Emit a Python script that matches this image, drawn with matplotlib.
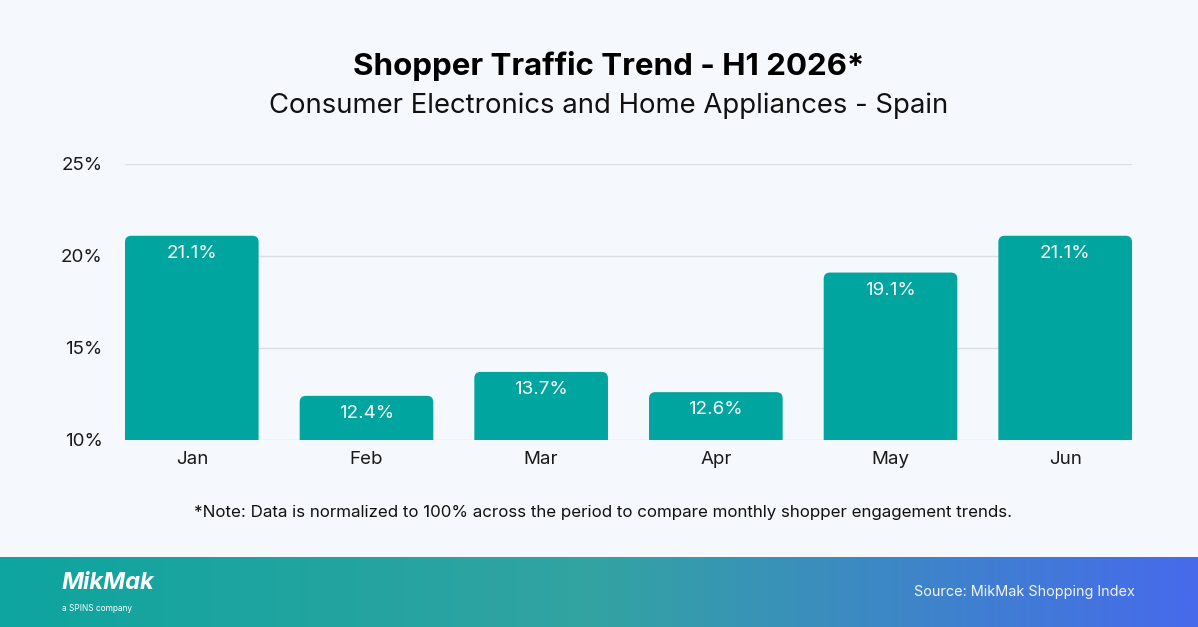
import numpy as np
import matplotlib.pyplot as plt
from matplotlib.patches import FancyBboxPatch

months = ['Jan', 'Feb', 'Mar', 'Apr', 'May', 'Jun']
traffic = [21.1, 12.4, 13.7, 12.6, 19.1, 21.1]
y_ticks = [10, 15, 20, 25]

BG = '#F5F8FC'
BAR = '#00A59F'
plt.rcParams['font.family'] = ['Inter', 'DejaVu Sans']

fig = plt.figure(figsize=(11.98, 6.27), dpi=100, facecolor=BG)
ax = fig.add_axes([125/1198, 1-440/627, 1007/1198, 276/627])
ax.set_facecolor(BG)

x = np.arange(len(months))
bars = ax.bar(x, traffic, width=0.765, bottom=0, color=BAR)
ax.set_xlim(-0.3825, 5.3825)
ax.set_ylim(10, 25)

# swap plain bars for top-rounded ones (bottom corners hidden below the axis)
for b in bars:
    x0, w, h = b.get_x(), b.get_width(), b.get_height()
    p = FancyBboxPatch((x0, 8), w, h - 8, boxstyle='round,pad=0,rounding_size=0.036',
                       mutation_aspect=9.5, fc=BAR, ec='none', zorder=3)
    ax.add_patch(p)
    b.remove()
    ax.text(x0 + w/2, h - 0.5, f'{h:.1f}%', ha='center', va='top',
            color='white', fontsize=13.5, zorder=4)

ax.set_yticks(y_ticks)
ax.set_yticklabels([f'{t}%' for t in y_ticks])
ax.set_xticks(x)
ax.set_xticklabels(months)
ax.tick_params(axis='both', length=0, labelsize=13.5, colors='#1a1a1a')
ax.tick_params(axis='y', pad=16)
ax.tick_params(axis='x', pad=8)
ax.grid(axis='y', color='#DADDE1', lw=1)
ax.set_axisbelow(True)
for s in ax.spines.values():
    s.set_visible(False)

fig.text(0.508, 1-66/627, 'Shopper Traffic Trend - H1 2026*', ha='center', va='center',
         fontsize=22.5, fontweight='bold', color='#000000')
fig.text(0.508, 1-106/627, 'Consumer Electronics and Home Appliances - Spain', ha='center',
         va='center', fontsize=19.8, color='#111111')
fig.text(0.5035, 1-512/627, '*Note: Data is normalized to 100% across the period to compare '
         'monthly shopper engagement trends.', ha='center', va='center',
         fontsize=12.2, color='#111111')

# footer band with gradient
fax = fig.add_axes([0, 0, 1, 70/627])
stops = [0, 0.5, 1]
r = [0x0E, 0x33, 0x47]
g = [0xA5, 0xA3, 0x6A]
bl = [0x9F, 0xA2, 0xEC]
t = np.linspace(0, 1, 600)
grad = np.stack([np.interp(t, stops, r), np.interp(t, stops, g),
                 np.interp(t, stops, bl)], axis=-1)[None, :, :] / 255
fax.imshow(grad, aspect='auto', extent=[0, 1, 0, 1])
fax.set_axis_off()
fax.text(62/1198, 0.63, 'MikMak', ha='left', va='center', fontsize=17,
         fontweight='bold', fontstyle='italic', color='white')
fax.text(62/1198, 0.27, 'a SPINS company', ha='left', va='center', fontsize=6,
         color='white')
fax.text(1135/1198, 0.5, 'Source: MikMak Shopping Index', ha='right', va='center',
         fontsize=10.4, color='#F0F4FF')

plt.savefig('out.png', dpi=100, facecolor=BG)
